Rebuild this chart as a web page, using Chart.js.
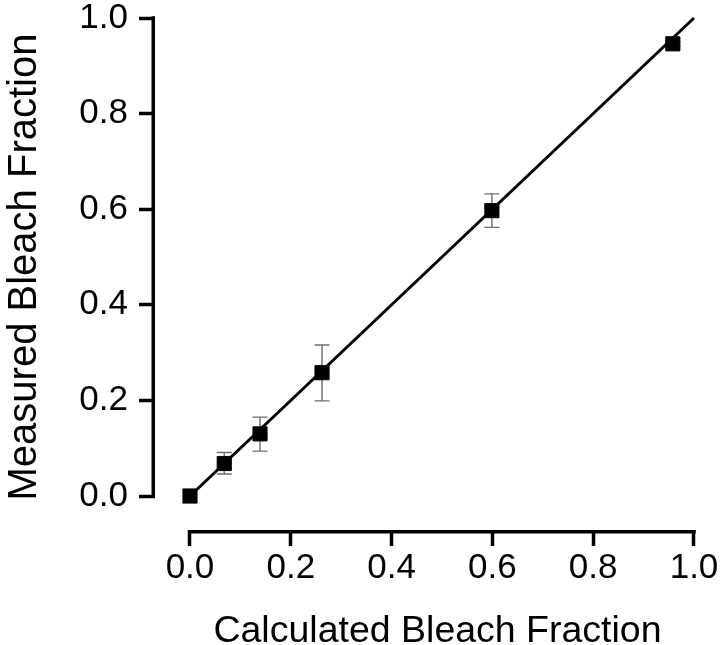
<!DOCTYPE html>
<html>
<head>
<meta charset="utf-8">
<script src="https://cdn.jsdelivr.net/npm/chart.js@4/dist/chart.umd.min.js"></script>
<style>
  html, body { margin: 0; padding: 0; background: #fff; }
  #wrap { width: 720px; height: 645px; }
</style>
</head>
<body>
<div id="wrap"><canvas id="c" width="720" height="645"></canvas></div>
<script>
// ---- data ----
const calculated = [0.0, 0.068, 0.139, 0.262, 0.599, 0.958];
const measured   = [0.0, 0.068, 0.130, 0.258, 0.597, 0.946];
const errLow     = [0.0, 0.046, 0.094, 0.199, 0.562, 0.941];
const errHigh    = [0.0, 0.091, 0.165, 0.316, 0.632, 0.951];
const fitX = [0.0, 1.0];
const fitY = [0.0, 1.0];
const xTicks = [0.0, 0.2, 0.4, 0.6, 0.8, 1.0];
const yTicks = [0.0, 0.2, 0.4, 0.6, 0.8, 1.0];
const xTitle = 'Calculated Bleach Fraction';
const yTitle = 'Measured Bleach Fraction';

const FONT = "'Liberation Sans', Arial, Helvetica, sans-serif";

const points = calculated.map((x, i) => ({ x: x, y: measured[i] }));
const fitLine = fitX.map((x, i) => ({ x: x, y: fitY[i] }));

const errorBars = {
  id: 'errorBars',
  beforeDatasetsDraw(chart) {
    const { ctx, scales: { x, y } } = chart;
    ctx.save();
    ctx.strokeStyle = '#6e6e6e';
    ctx.lineWidth = 1.4;
    const cap = 7.5;
    calculated.forEach((cx, i) => {
      if (errHigh[i] - errLow[i] <= 0) return;
      const px = x.getPixelForValue(cx);
      const y1 = y.getPixelForValue(errLow[i]);
      const y2 = y.getPixelForValue(errHigh[i]);
      ctx.beginPath();
      ctx.moveTo(px, y1); ctx.lineTo(px, y2);
      ctx.moveTo(px - cap, y1); ctx.lineTo(px + cap, y1);
      ctx.moveTo(px - cap, y2); ctx.lineTo(px + cap, y2);
      ctx.stroke();
    });
    ctx.restore();
  }
};

const axisLines = {
  id: 'axisLines',
  afterDraw(chart) {
    const { ctx, chartArea, scales: { x, y } } = chart;
    ctx.save();
    ctx.strokeStyle = '#000';
    ctx.lineWidth = 3.5;
    ctx.lineCap = 'butt';
    // y axis
    const ax = chartArea.left - 1.75;
    ctx.beginPath();
    ctx.moveTo(ax, y.getPixelForValue(yTicks[yTicks.length - 1]) - 1.75);
    ctx.lineTo(ax, y.getPixelForValue(yTicks[0]) + 1.75);
    ctx.stroke();
    // x axis
    const ay = chartArea.bottom + 1.75;
    ctx.beginPath();
    ctx.moveTo(x.getPixelForValue(xTicks[0]) - 1.75, ay);
    ctx.lineTo(x.getPixelForValue(xTicks[xTicks.length - 1]) + 1.75, ay);
    ctx.stroke();
    ctx.restore();
  }
};

new Chart(document.getElementById('c'), {
  type: 'scatter',
  data: {
    datasets: [
      {
        type: 'line',
        data: fitLine,
        borderColor: '#000',
        borderWidth: 3,
        pointRadius: 0,
        fill: false,
        clip: false,
        order: 2
      },
      {
        type: 'scatter',
        data: points,
        pointStyle: 'rect',
        pointRadius: 10,
        pointBackgroundColor: '#000',
        pointBorderColor: '#000',
        pointBorderWidth: 1,
        clip: false,
        order: 1
      }
    ]
  },
  options: {
    responsive: false,
    animation: false,
    events: [],
    layout: { autoPadding: false, padding: { top: 4, right: 0, left: 0, bottom: 0 } },
    plugins: { legend: { display: false }, tooltip: { enabled: false } },
    scales: {
      x: {
        type: 'linear',
        min: -0.0694,
        max: 1.0516,
        afterBuildTicks: (s) => { s.ticks = xTicks.map(v => ({ value: v })); },
        afterFit: (s) => { s.height = 115; s.paddingLeft = 0; s.paddingRight = 0; },
        grid: { display: true, drawOnChartArea: false, drawTicks: true, tickLength: 16, tickWidth: 3.5, tickColor: '#000' },
        border: { display: false },
        ticks: {
          color: '#000',
          padding: 5,
          maxRotation: 0,
          font: { family: FONT, size: 35, lineHeight: 1 },
          callback: (v) => Number(v).toFixed(1)
        },
        title: {
          display: true,
          text: xTitle,
          color: '#000',
          font: { family: FONT, size: 37.5, lineHeight: 0.7 },
          padding: { top: 0, bottom: 0 }
        }
      },
      y: {
        type: 'linear',
        min: -0.0711,
        max: 1.0293,
        afterBuildTicks: (s) => { s.ticks = yTicks.map(v => ({ value: v })); },
        afterFit: (s) => { s.width = 155; s.paddingTop = 0; s.paddingBottom = 0; },
        grid: { display: true, drawOnChartArea: false, drawTicks: true, tickLength: 16, tickWidth: 3.5, tickColor: '#000' },
        border: { display: false },
        ticks: {
          color: '#000',
          padding: 11,
          font: { family: FONT, size: 35, lineHeight: 1 },
          callback: (v) => Number(v).toFixed(1)
        },
        title: {
          display: true,
          text: yTitle,
          color: '#000',
          font: { family: FONT, size: 40, lineHeight: 1.2 },
          padding: { top: 1, bottom: 0 }
        }
      }
    }
  },
  plugins: [errorBars, axisLines]
});
</script>
</body>
</html>
